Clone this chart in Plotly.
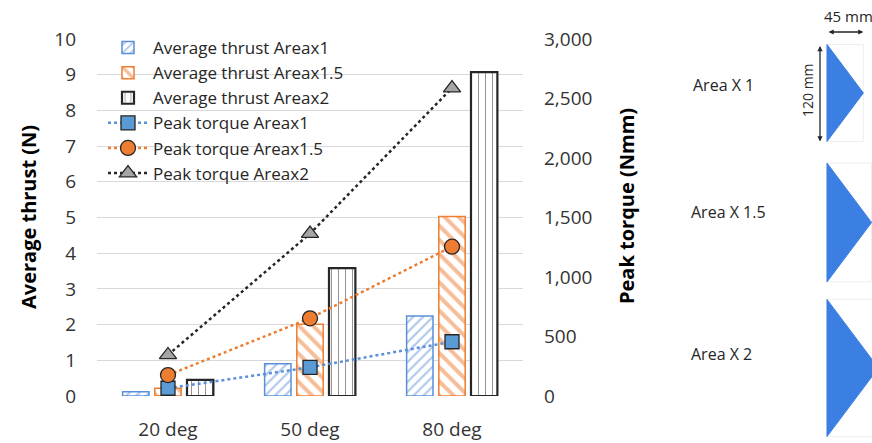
import math
import plotly.graph_objects as go

W, H = 872, 443

# ---- data ----
angles = ["20 deg", "50 deg", "80 deg"]
thrust_x1 = [0.12, 0.90, 2.24]
thrust_x15 = [0.22, 2.01, 5.03]
thrust_x2 = [0.45, 3.58, 9.07]
torque_x1 = [65, 241, 456]
torque_x15 = [176, 653, 1255]
torque_x2 = [345, 1364, 2588]
torque_ticks = [0, 500, 1000, 1500, 2000, 2500, 3000]
area_factors = [1, 1.5, 2]
area_labels = ["Area X 1", "Area X 1.5", "Area X 2"]
fin_width_mm = 45
fin_height_mm = 120

FONT = "Open Sans"
BLUE = "#5b8fd8"
ORANGE = "#ed7d31"
DARK = "#262626"
GRAY = "#a5a5a5"


def px(x):
    return x / W


def py(y):
    return 1 - y / H


def label(x, y, text, size, angle=0, color="#262626"):
    fig.add_annotation(x=px(x), y=py(y), xref="paper", yref="paper", text=text,
                       textangle=angle, showarrow=False, xanchor="center",
                       yanchor="middle", font=dict(family=FONT, size=size, color=color))


fig = go.Figure()

# bars: average thrust
bar_specs = [
    ("Average thrust Areax1", thrust_x1, BLUE, "/", 7, 0.3, 1.5),
    ("Average thrust Areax1.5", thrust_x15, ORANGE, "\\", 10, 0.4, 1.5),
    ("Average thrust Areax2", thrust_x2, DARK, "|", 7, 0.14, 2.2),
]
for name, vals, col, shape, size, sol, lw in bar_specs:
    fig.add_trace(go.Bar(
        name=name, x=angles, y=vals, yaxis="y",
        marker=dict(color="white", line=dict(color=col, width=lw),
                    pattern=dict(shape=shape, fgcolor=col, bgcolor="white",
                                 size=size, solidity=sol)),
    ))

# lines: peak torque
line_specs = [
    ("Peak torque Areax1", torque_x1, BLUE, "square", 14),
    ("Peak torque Areax1.5", torque_x15, ORANGE, "circle", 15),
    ("Peak torque Areax2", torque_x2, DARK, "triangle-up", 15),
]
marker_fill = {"square": "#5b9bd5", "circle": ORANGE, "triangle-up": GRAY}
for name, vals, col, sym, size in line_specs:
    fig.add_trace(go.Scatter(
        name=name, x=angles, y=vals, yaxis="y2", mode="lines+markers",
        line=dict(color=col, width=2.5, dash="dot"),
        marker=dict(symbol=sym, size=size, color=marker_fill[sym],
                    line=dict(color=DARK, width=1.3)),
    ))

tick_font = dict(family=FONT, size=19, color="#333333")

fig.update_layout(
    width=W, height=H,
    margin=dict(l=0, r=0, t=0, b=0, autoexpand=False),
    paper_bgcolor="white", plot_bgcolor="white",
    font=dict(family=FONT, color="#262626"),
    barmode="group", bargap=0.32, bargroupgap=0.18,
    showlegend=True,
    legend=dict(x=px(103), y=py(30), xanchor="left", yanchor="top",
                bgcolor="rgba(0,0,0,0)", font=dict(family=FONT, size=17, color="#262626"),
                traceorder="normal", tracegroupgap=0, itemwidth=40),
    xaxis=dict(domain=[px(97), px(523)], showgrid=False, showline=False,
               tickfont=tick_font, ticks="", ticklabelstandoff=20, automargin=False),
    yaxis=dict(domain=[py(396), py(39)], range=[0, 10], dtick=1,
               showgrid=True, gridcolor="#d9d9d9", gridwidth=1,
               zeroline=False, showline=False, ticks="",
               tickfont=tick_font, ticklabelstandoff=20, automargin=False),
    yaxis2=dict(overlaying="y", side="right", anchor="x", range=[0, 3000],
                tickvals=torque_ticks, tickformat=",", showgrid=False,
                zeroline=False, showline=False, ticks="",
                tickfont=tick_font, ticklabelstandoff=20, automargin=False),
)

# axis titles
label(28, 217, "<b>Average thrust (N)</b>", 20, -90, "#000000")
label(627, 206, "<b>Peak torque (Nmm)</b>", 20, -90, "#000000")

# fin outlines: triangles scaled by sqrt(area factor)
mm = 97 / fin_height_mm  # pixels per mm
left_px = 827
centers_px = [93, 222.5, 368]
label_px = [(723, 85), (728, 212), (721, 354)]
for k, cy, lab, (lx, ly) in zip(area_factors, centers_px, area_labels, label_px):
    s = math.sqrt(k)
    w = fin_width_mm * s * mm
    h = fin_height_mm * s * mm
    top, bot = cy - h / 2, cy + h / 2
    fig.add_shape(type="rect", xref="paper", yref="paper",
                  x0=px(left_px), x1=px(left_px + w), y0=py(bot), y1=py(top),
                  line=dict(color="#eeeeee", width=1), fillcolor="rgba(0,0,0,0)")
    path = (f"M {px(left_px)} {py(top)} L {px(left_px + w)} {py(cy)} "
            f"L {px(left_px)} {py(bot)} Z")
    fig.add_shape(type="path", xref="paper", yref="paper", path=path,
                  fillcolor="#3b7fe3", line=dict(color="#3b7fe3", width=1))
    label(lx, ly, lab, 16)

# dimension markers on the first fin
w1 = fin_width_mm * mm
h1 = fin_height_mm * mm
top1 = centers_px[0] - h1 / 2
fig.add_annotation(x=px(left_px + w1), y=py(32), xref="paper", yref="paper",
                   ax=-w1, ay=0, text="", showarrow=True, arrowside="end+start",
                   arrowhead=2, arrowsize=0.8, arrowwidth=1.3, arrowcolor="#262626")
fig.add_annotation(x=px(820), y=py(top1 + h1), xref="paper", yref="paper",
                   ax=0, ay=-h1, text="", showarrow=True, arrowside="end+start",
                   arrowhead=2, arrowsize=0.8, arrowwidth=1.3, arrowcolor="#262626")
label(848, 16, f"{fin_width_mm} mm", 15)
label(808, 90, f"{fin_height_mm} mm", 14, -90)

fig.write_html("out.html")
